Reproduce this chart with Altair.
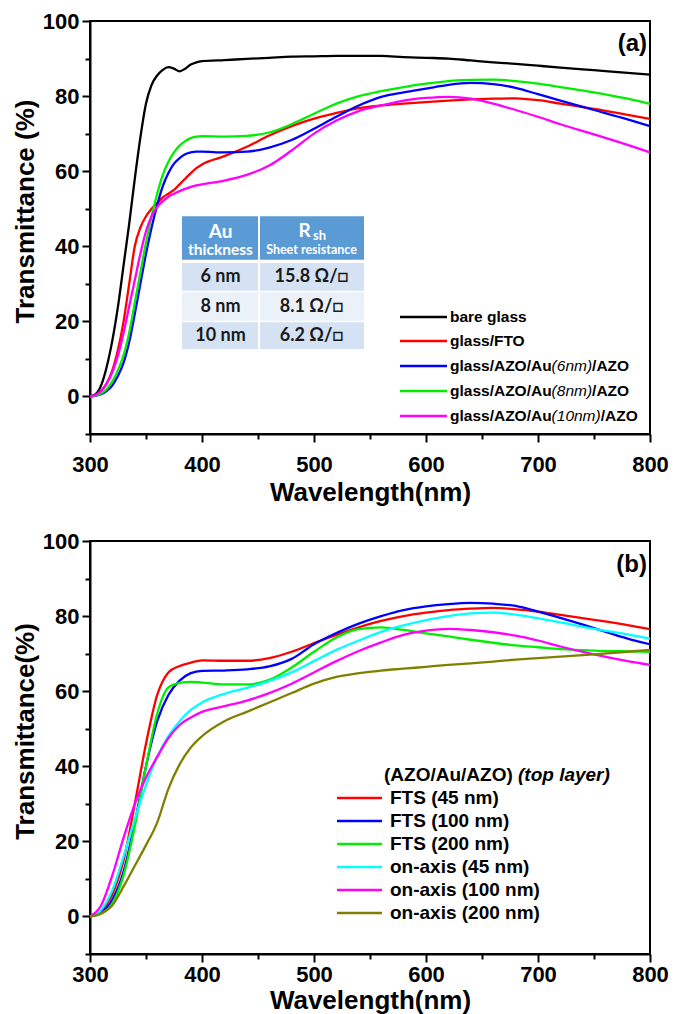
import altair as alt
import pandas as pd

# ---------------- data: panel (a) ----------------
wl_a = [300, 305, 310, 315, 320, 325, 330, 335, 340, 345, 350, 355, 360, 365, 370, 375, 380, 385, 390, 395,
        400, 420, 440, 460, 480, 500, 520, 540, 560, 580, 600, 620, 640, 660, 680, 700, 720, 750, 780, 800]
bare_glass = [0, 0.6, 3, 8, 15, 24, 35, 46, 58, 69, 78, 83, 85.5, 87, 87.7, 87.3, 86.6, 87.3, 88.4, 89,
              89.3, 89.6, 89.9, 90.2, 90.5, 90.6, 90.7, 90.7, 90.7, 90.4, 90.2, 90.0, 89.5, 89.0, 88.6, 88.1, 87.6, 86.9, 86.2, 85.7]
glass_fto = [0, 0.4, 1.5, 3.5, 7, 12.5, 20, 30, 40, 45, 48, 50, 51.5, 53, 54, 55, 56.5, 58, 59.5, 60.8,
             61.8, 64, 66.5, 69.5, 72, 74, 75.5, 76.8, 77.5, 78, 78.4, 78.8, 79.1, 79.3, 79.4, 78.9, 78, 76.6, 75, 73.9]
au_6nm = [0, 0.2, 0.6, 1.5, 3, 5.5, 9, 14.5, 22, 30, 38, 45, 51, 56, 59.5, 62, 63.5, 64.5, 65, 65.2,
          65.2, 65, 65.2, 66.3, 68.3, 71.3, 74.5, 77.5, 79.8, 81, 82, 83, 83.5, 83.2, 82.2, 80.5, 78.8, 76.3, 73.8, 72]
au_8nm = [0, 0.2, 0.8, 2, 4, 7, 11, 17, 25, 33, 41, 48, 54, 59, 62.5, 65, 66.8, 68, 68.8, 69.2,
          69.3, 69.2, 69.4, 70.3, 72.5, 75.3, 78, 80, 81.3, 82.4, 83.3, 84, 84.3, 84.4, 84, 83.3, 82.4, 81, 79.3, 77.9]
au_10nm = [0, 0.4, 1.5, 3.5, 6.5, 11, 17, 24, 31, 38, 44, 48, 50.5, 52, 53.2, 54, 54.7, 55.3, 55.8, 56.2,
           56.5, 57.5, 59, 61.5, 65.5, 70, 73.5, 76, 77.5, 78.8, 79.5, 79.8, 79.3, 78, 76.3, 74.5, 72.5, 69.8, 67, 65]
names_a = ["bare glass", "glass/FTO", "glass/AZO/Au(6nm)/AZO", "glass/AZO/Au(8nm)/AZO", "glass/AZO/Au(10nm)/AZO"]
colors_a = ["#000000", "#ff0000", "#0000ff", "#00ee00", "#ff00ff"]
values_a = [bare_glass, glass_fto, au_6nm, au_8nm, au_10nm]

# legend (a) text parts
leg_a_bold = ["bare glass", "glass/FTO", "glass/AZO/Au", "glass/AZO/Au", "glass/AZO/Au"]
leg_a_italic = ["", "", "(6nm)", "(8nm)", "(10nm)"]
leg_a_suffix = ["", "", "/AZO", "/AZO", "/AZO"]

# inset table (a)
table_thickness = ["6 nm", "8 nm", "10 nm"]
table_rsh = ["15.8 \u03a9/\u25a1", "8.1 \u03a9/\u25a1", "6.2 \u03a9/\u25a1"]

# ---------------- data: panel (b) ----------------
wl_b = [300, 310, 320, 330, 340, 350, 360, 370, 380, 390, 400, 420, 440, 460, 480, 500, 520, 540, 560, 580,
        600, 620, 640, 660, 680, 700, 720, 750, 780, 800]
fts_45 = [0, 1.5, 6, 15, 30, 46, 59, 65, 66.7, 67.6, 68.2, 68.1, 68.1, 68.8, 70.5, 72.8, 75, 77, 78.7, 80,
          80.9, 81.6, 82, 82.2, 81.8, 81.2, 80.3, 79, 77.6, 76.5]
fts_100 = [0, 1, 4.5, 12, 25, 40, 52, 59, 62.8, 64.8, 65.4, 65.5, 65.8, 66.6, 68.6, 72.5, 75.5, 78, 80, 81.6,
           82.6, 83.2, 83.5, 83.3, 82.7, 81.2, 79.5, 76.8, 74, 72.5]
fts_200 = [0, 0.8, 3.5, 11, 24, 40, 54, 61, 62.2, 62.5, 62.3, 61.8, 61.8, 63, 66.3, 70.5, 74.3, 76.5, 77, 76.3,
           75.4, 74.6, 73.7, 72.9, 72.2, 71.7, 71.2, 70.8, 70.6, 70.5]
on_45 = [0, 1.8, 7, 16, 26, 35, 42.5, 48, 52, 55, 57, 59.3, 60.9, 62.7, 65, 68, 71, 73.5, 75.8, 77.5,
         78.9, 80, 80.7, 80.9, 80.4, 79.4, 78.3, 76.6, 75.1, 74]
on_100 = [0, 3, 11, 21, 30, 37, 42.5, 47.5, 51, 53, 54.5, 56, 57.5, 59.5, 62, 65, 68, 70.7, 73, 75,
          76.1, 76.6, 76.3, 75.7, 74.8, 73.5, 71.9, 69.8, 68, 67]
on_200 = [0, 0.8, 3, 8, 13.5, 19, 25, 34, 40.5, 45, 48, 52, 54.5, 57, 59.5, 62, 63.8, 64.8, 65.5, 66,
          66.5, 67, 67.4, 67.9, 68.4, 68.8, 69.2, 69.8, 70.5, 71]
names_b = ["FTS (45 nm)", "FTS (100 nm)", "FTS (200 nm)", "on-axis (45 nm)", "on-axis (100 nm)", "on-axis (200 nm)"]
colors_b = ["#ff0000", "#0000ff", "#00ee00", "#00ffff", "#ff00ff", "#808000"]
values_b = [fts_45, fts_100, fts_200, on_45, on_100, on_200]
leg_b_title = ["(AZO/Au/AZO)", "(top layer)"]

# ---------------- layout ----------------
W, H = 560, 413
X0, X1 = 300, 800
Y0, Y1 = -10, 100
FONT = "Liberation Sans"
TFONT = "Lato"


def xd(px):
    return X0 + px * (X1 - X0) / W


def yd(py):
    return Y1 - py * (Y1 - Y0) / H


def axes(ytitle, lab_pad, title_pad):
    xaxis = alt.Axis(
        values=list(range(300, 801, 50)),
        labelExpr="datum.value % 100 == 0 ? datum.label : ''",
        tickSize={"condition": {"test": "datum.value % 100 == 0", "value": 8}, "value": 5},
        title="Wavelength(nm)", grid=False, domainColor="black", domainWidth=2,
        tickColor="black", tickWidth=2, labelFont=FONT, labelFontSize=22, labelFontWeight="bold",
        labelColor="black", labelPadding=lab_pad, labelOverlap=False, labelFlush=False,
        titleFont=FONT, titleFontSize=26, titleFontWeight="bold", titleColor="black", titlePadding=title_pad)
    yaxis = alt.Axis(
        values=list(range(-10, 101, 10)),
        labelExpr="datum.value % 20 == 0 ? datum.label : ''",
        tickSize={"condition": {"test": "datum.value % 20 == 0", "value": 8}, "value": 5},
        title=ytitle, grid=False, domainColor="black", domainWidth=2,
        tickColor="black", tickWidth=2, labelFont=FONT, labelFontSize=22, labelFontWeight="bold",
        labelColor="black", labelPadding=3, labelOverlap=False, labelFlush=False,
        titleFont=FONT, titleFontSize=26, titleFontWeight="bold", titleColor="black", titlePadding=4,
        titleY=190)
    xe = alt.X("wl:Q", scale=alt.Scale(domain=[X0, X1], nice=False, zero=False), axis=xaxis)
    ye = alt.Y("T:Q", scale=alt.Scale(domain=[Y0, Y1], nice=False, zero=False), axis=yaxis)
    xe2 = alt.X2("wl2:Q")
    ye2 = alt.Y2("T2:Q")
    return xe, ye, xe2, ye2


def text_layer(df, xe, ye, size, weight="bold", style="normal", color="black", align="left", font=FONT):
    return alt.Chart(df).mark_text(align=align, baseline="middle", font=font, fontSize=size,
                                   fontWeight=weight, fontStyle=style, color=color).encode(
        x=xe, y=ye, text="txt:N")


# ---------------- panel (a) ----------------
xe, ye, xe2, ye2 = axes("Transmittance (%)", 12, 4)
rows = []
for n, vals in zip(names_a, values_a):
    for w, v in zip(wl_a, vals):
        rows.append({"wl": w, "T": v, "series": n})
df_a = pd.DataFrame(rows)
cscale_a = alt.Scale(domain=names_a, range=colors_a)

lines_a = alt.Chart(df_a).mark_line(strokeWidth=2.3, interpolate="monotone").encode(
    x=xe, y=ye, color=alt.Color("series:N", scale=cscale_a, legend=None),
    detail="series:N", order="wl:Q")

# legend (a)
leg_rows_y = [296, 320, 345, 370, 395]
leg_lines_a = pd.DataFrame({"wl": [xd(310)] * 5, "wl2": [xd(357)] * 5,
                            "T": [yd(v) for v in leg_rows_y], "series": names_a})
leg_rule_a = alt.Chart(leg_lines_a).mark_rule(strokeWidth=2.5).encode(
    x=xe, x2=xe2, y=ye, color=alt.Color("series:N", scale=cscale_a, legend=None))
bold_w = 101.6
ital_w = [0, 0, 40.5, 40.5, 49.1]
t_bold = pd.DataFrame({"wl": [xd(360)] * 5, "T": [yd(v) for v in leg_rows_y], "txt": leg_a_bold})
t_ital = pd.DataFrame({"wl": [xd(360 + bold_w)] * 5, "T": [yd(v) for v in leg_rows_y], "txt": leg_a_italic})
t_suff = pd.DataFrame({"wl": [xd(360 + bold_w + w) for w in ital_w], "T": [yd(v) for v in leg_rows_y],
                       "txt": leg_a_suffix})
leg_text_a = (text_layer(t_bold, xe, ye, 15.5) + text_layer(t_ital, xe, ye, 15.5, weight="normal", style="italic")
              + text_layer(t_suff, xe, ye, 15.5))

# table (a)
tl, tm, tr = 92, 169, 274
row_bounds = [(195.3, 238.7), (242, 269.7), (271.3, 299.7), (301.3, 328)]
fills = ["#5b9bd5", "#d5e2f3", "#ebf1f9", "#d5e2f3"]
rect_rows = []
for (t0, t1), f in zip(row_bounds, fills):
    rect_rows.append({"wl": xd(tl), "wl2": xd(tm - 1), "T": yd(t0), "T2": yd(t1), "f": f})
    rect_rows.append({"wl": xd(tm + 1), "wl2": xd(tr), "T": yd(t0), "T2": yd(t1), "f": f})
rects = alt.Chart(pd.DataFrame(rect_rows)).mark_rect().encode(
    x=xe, x2=xe2, y=ye, y2=ye2, fill=alt.Fill("f:N", scale=None))
cx1, cx2 = (tl + tm) / 2, (tm + tr) / 2
hdr_big = pd.DataFrame({"wl": [xd(cx1), xd(cx2 - 7)], "T": [yd(210.5), yd(210)], "txt": ["Au", "R"]})
hdr_sub = pd.DataFrame({"wl": [xd(cx2 + 8)], "T": [yd(215)], "txt": ["sh"]})
hdr_small1 = pd.DataFrame({"wl": [xd(cx1)], "T": [yd(228.7)], "txt": ["thickness"]})
hdr_small2 = pd.DataFrame({"wl": [xd(cx2)], "T": [yd(228.7)], "txt": ["Sheet resistance"]})
row_y = [256, 285.5, 314.7]
body = pd.DataFrame({"wl": [xd(cx1)] * 3 + [xd(cx2)] * 3, "T": [yd(v) for v in row_y] * 2,
                     "txt": table_thickness + table_rsh})
table_text = (text_layer(hdr_big, xe, ye, 19, color="white", align="center", font=TFONT)
              + text_layer(hdr_sub, xe, ye, 13, color="white", align="center", font=TFONT)
              + text_layer(hdr_small1, xe, ye, 15.5, color="white", align="center", font=TFONT)
              + text_layer(hdr_small2, xe, ye, 12.5, color="white", align="center", font=TFONT)
              + text_layer(body, xe, ye, 18, color="#1a1a1a", align="center", font=TFONT))

lab_a = text_layer(pd.DataFrame({"wl": [xd(557)], "T": [yd(23)], "txt": ["(a)"]}), xe, ye, 24, align="right")

panel_a = alt.layer(lines_a, rects, table_text, leg_rule_a, leg_text_a, lab_a).properties(width=W, height=H)

# ---------------- panel (b) ----------------
xe, ye, xe2, ye2 = axes("Transmittance(%)", 2, 2)
rows = []
for n, vals in zip(names_b, values_b):
    for w, v in zip(wl_b, vals):
        rows.append({"wl": w, "T": v, "series": n})
df_b = pd.DataFrame(rows)
cscale_b = alt.Scale(domain=names_b, range=colors_b)
lines_b = alt.Chart(df_b).mark_line(strokeWidth=2.3, interpolate="monotone").encode(
    x=xe, y=ye, color=alt.Color("series:N", scale=cscale_b, legend=None),
    detail="series:N", order="wl:Q")
leg_rows_b = [257, 280, 303, 326, 349, 372]
leg_lines_b = pd.DataFrame({"wl": [xd(247)] * 6, "wl2": [xd(292)] * 6,
                            "T": [yd(v) for v in leg_rows_b], "series": names_b})
leg_rule_b = alt.Chart(leg_lines_b).mark_rule(strokeWidth=2.5).encode(
    x=xe, x2=xe2, y=ye, color=alt.Color("series:N", scale=cscale_b, legend=None))
t_b = pd.DataFrame({"wl": [xd(300)] * 6, "T": [yd(v) for v in leg_rows_b], "txt": names_b})
title_b1 = pd.DataFrame({"wl": [xd(294)], "T": [yd(234)], "txt": [leg_b_title[0]]})
title_b2 = pd.DataFrame({"wl": [xd(294 + 134)], "T": [yd(234)], "txt": [leg_b_title[1]]})
leg_text_b = (text_layer(t_b, xe, ye, 19) + text_layer(title_b1, xe, ye, 19)
              + text_layer(title_b2, xe, ye, 19, style="italic"))
lab_b = text_layer(pd.DataFrame({"wl": [xd(557)], "T": [yd(24)], "txt": ["(b)"]}), xe, ye, 24, align="right")

panel_b = alt.layer(lines_b, leg_rule_b, leg_text_b, lab_b).properties(width=W, height=H)

chart = alt.vconcat(panel_a, panel_b, spacing=23).resolve_scale(color="independent").properties(
    padding={"left": 3, "top": 1, "right": 5, "bottom": 0}
).configure_view(stroke="black", strokeWidth=2)

chart.save("out.html", embed_options={"renderer": "svg", "actions": False})
